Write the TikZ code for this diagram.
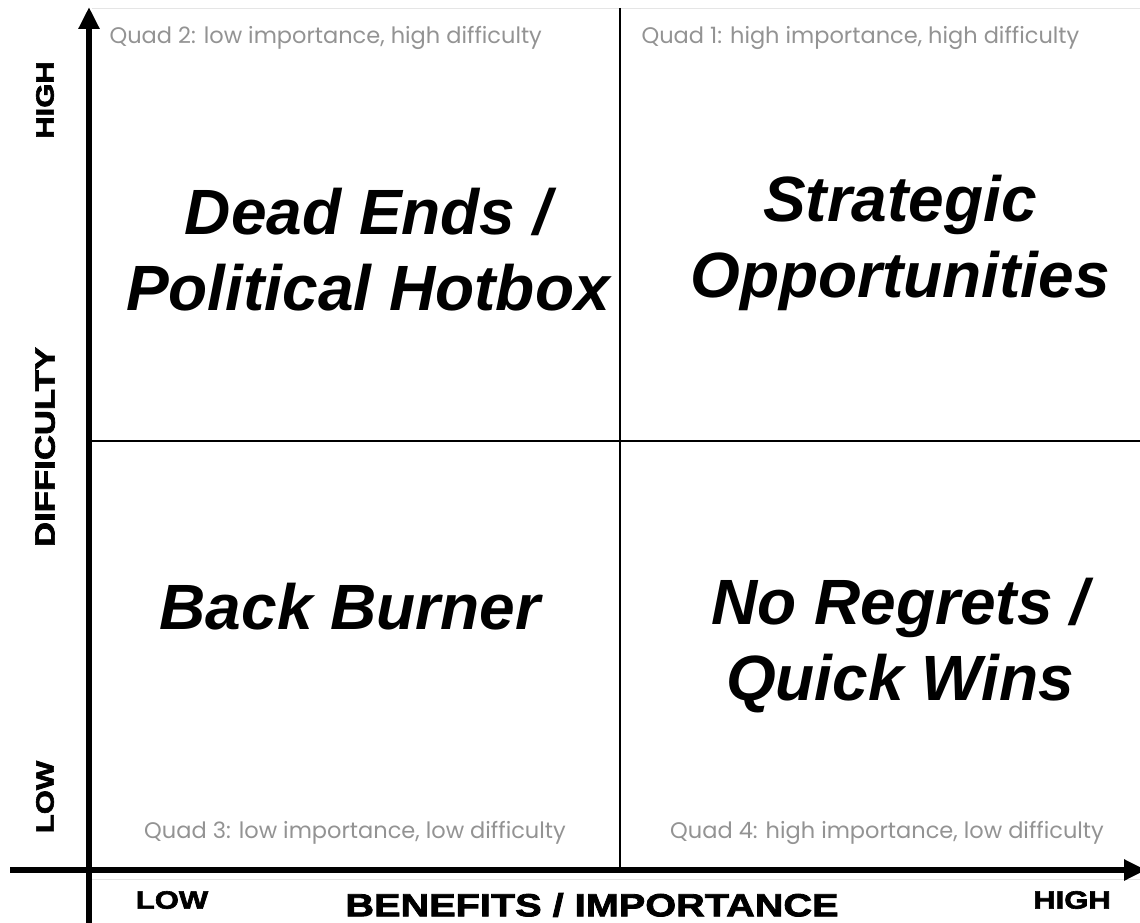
\documentclass[tikz,border=0pt]{standalone}
\usepackage{fontspec}
\setmainfont{Liberation Sans}
\newfontfamily\quadfont{Poppins}
\newfontfamily\axisfont{Liberation Sans}[UprightFont={* Bold},FakeStretch=1.24,FakeBold=2.5]
\usetikzlibrary{arrows.meta}

\begin{document}
\begin{tikzpicture}[x=1pt,y=-1pt,
  axis/.style={line width=6pt,-{Triangle[length=22pt,width=20pt]}},
  divider/.style={line width=2pt},
  faint/.style={line width=1pt,gray!20},
  quad label/.style={text=gray!85,font=\quadfont\fontsize{22.5}{26}\selectfont},
  big label/.style={align=center,font=\bfseries\itshape\fontsize{64}{76}\selectfont},
  axis label/.style={font=\axisfont\fontsize{25}{30}\selectfont}]
\useasboundingbox (0,0) rectangle (1140,923);

\coordinate (yfoot) at (89,923);
\coordinate (ytip) at (89,7);
\coordinate (xfoot) at (10,870);
\coordinate (xtip) at (1146,870);
\coordinate (midtop) at (620,8);
\coordinate (midbot) at (620,870);
\coordinate (midleft) at (89,441);
\coordinate (midright) at (1140,441);
\coordinate (shtopl) at (92,9);
\coordinate (shtopr) at (1140,9);
\coordinate (shbotl) at (92,879);
\coordinate (shbotr) at (1140,879);

\draw[faint] (shtopl) -- (shtopr);
\draw[faint] (shbotl) -- (shbotr);
\draw[divider] (midtop) -- (midbot);
\draw[divider] (midleft) -- (midright);
\draw[axis] (yfoot) -- (ytip);
\draw[axis] (xfoot) -- (xtip);

\node[quad label, anchor=west] (q2) at (106,38) {Quad 2: low importance, high difficulty};
\node[quad label, anchor=west] (q1) at (638,38) {Quad 1: high importance, high difficulty};
\node[quad label] (q3) at (355,833) {Quad 3: low importance, low difficulty};
\node[quad label] (q4) at (887,833) {Quad 4: high importance, low difficulty};

\node[big label] (deadend) at (368,250) {Dead Ends /\\Political Hotbox};
\node[big label] (strategic) at (900,243) {Strategic\\Opportunities};
\node[big label] (burner) at (350,607) {Back Burner};
\node[big label] (quickwin) at (900,646) {No Regrets /\\Quick Wins};

\node[axis label, rotate=90] (yhigh) at (45,100) {HIGH};
\node[axis label, rotate=90, font=\axisfont\fontsize{28}{30}\selectfont] (ytitle) at (45,447) {DIFFICULTY};
\node[axis label, rotate=90] (ylow) at (45,797) {LOW};
\node[axis label] (xlow) at (172,900) {LOW};
\node[axis label, font=\axisfont\fontsize{32}{36}\selectfont] (xtitle) at (592,905) {BENEFITS / IMPORTANCE};
\node[axis label] (xhigh) at (1072,900) {HIGH};
\end{tikzpicture}
\end{document}
